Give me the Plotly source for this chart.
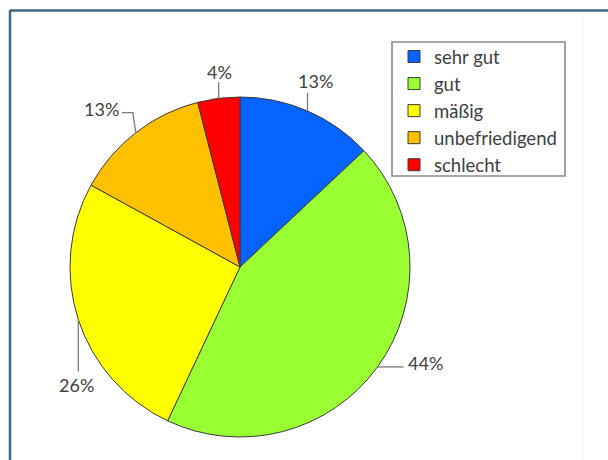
import math
import plotly.graph_objects as go

# ---- data ----
categories = ["sehr gut", "gut", "mäßig", "unbefriedigend", "schlecht"]
values = [13, 44, 26, 13, 4]
label_texts = ["13%", "44%", "26%", "13%", "4%"]
colors = ["#0563FF", "#99FF33", "#FFFF00", "#FFC000", "#FF0000"]

W, H = 608, 460
CX, CY, R = 240, 267, 170  # pie centre / radius in px

# leader-line styling: polyline offsets (px) from slice edge point, then label offset from last point
leader_paths = [
    [(0, -18)],
    [(10, 0), (26, 0)],
    [(0, 52)],
    [(-3, -20), (-14, -20)],
    [(0, -16)],
]
label_offsets = [(8, -12), (22, -4), (-2, 13), (-20, -4), (1, -10)]

FONT = "Lato, 'Open Sans', sans-serif"
TXT = "#404040"


def px(x, y):
    return x / W, 1 - y / H


fig = go.Figure()
fig.add_trace(go.Pie(
    labels=categories,
    values=values,
    sort=False,
    direction="clockwise",
    rotation=0,
    marker=dict(colors=colors, line=dict(color="#3a3a3a", width=1)),
    textinfo="none",
    hoverinfo="label+percent",
    domain=dict(x=[(CX - R) / W, (CX + R) / W], y=[1 - (CY + R) / H, 1 - (CY - R) / H]),
))

total = sum(values)
cum = 0
shapes = []
annotations = []
for i, v in enumerate(values):
    mid = (cum + v / 2) / total * 2 * math.pi
    cum += v
    ex = CX + R * math.sin(mid)
    ey = CY - R * math.cos(mid)
    pts = [(ex, ey)] + [(ex + dx, ey + dy) for dx, dy in leader_paths[i]]
    path = "M " + " L ".join(f"{px(x, y)[0]:.5f},{px(x, y)[1]:.5f}" for x, y in pts)
    shapes.append(dict(type="path", xref="paper", yref="paper", path=path,
                       line=dict(color="#7a7a7a", width=1.3)))
    lx = pts[-1][0] + label_offsets[i][0]
    ly = pts[-1][1] + label_offsets[i][1]
    ax_, ay_ = px(lx, ly)
    annotations.append(dict(x=ax_, y=ay_, xref="paper", yref="paper", text=label_texts[i],
                            showarrow=False, xanchor="center", yanchor="middle",
                            font=dict(family=FONT, size=18, color=TXT)))

# outer frame (top and left edges)
shapes.append(dict(type="line", xref="paper", yref="paper", x0=px(10, 10.5)[0], y0=px(10, 10.5)[1],
                   x1=1, y1=px(10, 10.5)[1], line=dict(color="#3d6b80", width=2.5)))
shapes.append(dict(type="line", xref="paper", yref="paper", x0=px(10, 10)[0], y0=px(10, 10)[1],
                   x1=px(10, 460)[0], y1=0, line=dict(color="#3d6b80", width=2.5)))
shapes.append(dict(type="line", xref="paper", yref="paper", x0=px(583, 12)[0], y0=px(583, 12)[1],
                   x1=px(583, 460)[0], y1=0, line=dict(color="#f6f6f6", width=1)))

# legend frame
bx0, by0 = px(392, 42)
bx1, by1 = px(565, 176)
shapes.append(dict(type="rect", xref="paper", yref="paper", x0=bx0, y0=by1, x1=bx1, y1=by0,
                   line=dict(color="#8a8a8a", width=1.6), fillcolor="white", layer="below"))

lx0, ly0 = px(394, 38)
fig.update_layout(
    width=W, height=H,
    margin=dict(l=0, r=0, t=0, b=0),
    paper_bgcolor="white",
    plot_bgcolor="white",
    showlegend=True,
    legend=dict(x=lx0, y=ly0, xanchor="left", yanchor="top",
                bgcolor="rgba(0,0,0,0)", borderwidth=0,
                font=dict(family=FONT, size=18.5, color=TXT),
                itemclick=False),
    shapes=shapes,
    annotations=annotations,
)

fig.write_html("out.html", config={"displayModeBar": False},
               post_script="document.body.style.margin='0';")
